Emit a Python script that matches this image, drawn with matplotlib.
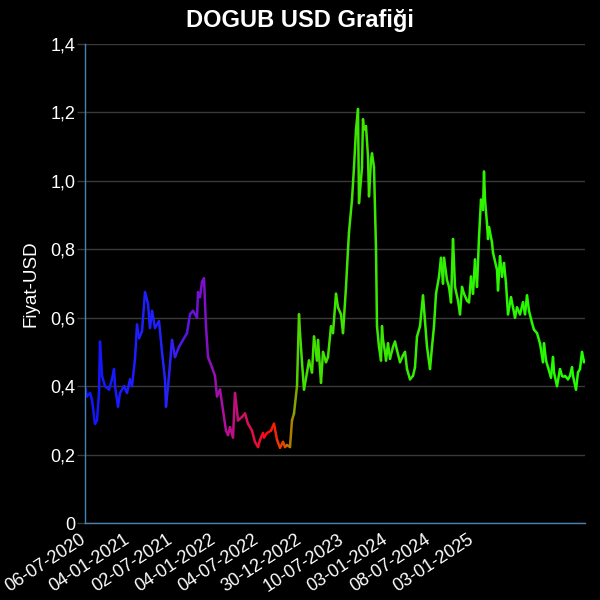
# DOGUB USD fiyat grafigi -- siyah zemin, zamana gore renk degistiren cizgi

import numpy as np
import matplotlib
matplotlib.use('Agg')
import matplotlib.pyplot as plt
import matplotlib.transforms as mtrans
from matplotlib.collections import LineCollection
from matplotlib.colors import LinearSegmentedColormap
from matplotlib.ticker import FuncFormatter, FixedLocator

# gun indeksi (0 = 06-07-2020) ve USD fiyat
gun = [0, 4, 10, 14, 20, 24, 28, 30, 34, 40, 48, 54, 58, 60, 66, 70, 78, 84, 90, 94,
       100, 104, 108, 114, 120, 126, 130, 134, 140, 148, 154, 160, 162, 168, 174, 180, 188,
       196, 204, 210, 216, 224, 226, 230, 234, 238, 242, 246, 254, 260, 264, 270, 276,
       282, 286, 290, 296, 300, 306, 314, 320, 326, 334, 340, 346, 350, 356, 358, 364,
       372, 378, 384, 390, 396, 400, 404, 410, 414, 418, 424, 428, 430, 434, 438, 444,
       448, 454, 458, 464, 466, 472, 476, 482, 486, 492, 496, 502, 506, 512, 516, 522,
       526, 528, 534, 538, 542, 546, 548, 554, 556, 558, 562, 566, 568, 572, 574, 578,
       582, 584, 588, 592, 594, 596, 600, 602, 606, 610, 616, 620, 624, 630, 636, 640,
       644, 650, 656, 660, 664, 670, 676, 680, 684, 690, 694, 698, 702, 708, 712, 716,
       718, 724, 728, 732, 736, 740, 746, 750, 754, 758, 764, 768, 772, 776, 780, 784,
       788, 792, 796, 798, 800, 804, 806, 808, 814, 816, 824, 826, 830, 834, 838, 842,
       846, 852, 856, 860, 864, 870, 876, 880, 884, 888, 894, 898, 904, 910, 916, 918,
       922, 926, 932, 936, 938, 944, 950, 954, 960, 966, 970, 974, 976, 982, 986, 990,
       994, 998, 1000]
fiyat = [0.40, 0.37, 0.38, 0.36, 0.29, 0.30, 0.38, 0.53, 0.43, 0.40, 0.39, 0.42, 0.45,
         0.40, 0.34, 0.38, 0.40, 0.38, 0.42, 0.40, 0.48, 0.58, 0.54, 0.56, 0.675, 0.64,
         0.57, 0.62, 0.57, 0.59, 0.50, 0.42, 0.34, 0.43, 0.535, 0.485, 0.515,
         0.535, 0.555, 0.61, 0.62, 0.60, 0.675, 0.66, 0.705, 0.715, 0.575, 0.485, 0.455,
         0.43, 0.37, 0.39, 0.33, 0.27, 0.257, 0.28, 0.25, 0.38, 0.30, 0.31, 0.32, 0.29,
         0.27, 0.237, 0.222, 0.243, 0.263, 0.25, 0.263, 0.27, 0.29, 0.243, 0.22, 0.237,
         0.222, 0.228, 0.222, 0.30, 0.32, 0.40, 0.61, 0.555, 0.47, 0.39, 0.44, 0.475,
         0.44, 0.545, 0.475, 0.535, 0.41, 0.50, 0.47, 0.485, 0.575, 0.555, 0.67, 0.63,
         0.61, 0.555, 0.69, 0.80, 0.85, 0.945, 1.04, 1.15, 1.21, 0.935, 1.04, 1.18, 1.15,
         1.16, 1.07, 0.955, 1.06, 1.08, 1.04, 0.80, 0.575, 0.515, 0.475, 0.575, 0.535,
         0.50, 0.475, 0.525, 0.48, 0.515, 0.53, 0.505, 0.47, 0.49, 0.50, 0.45, 0.42, 0.43,
         0.455, 0.545, 0.575, 0.665, 0.59, 0.515, 0.45, 0.515, 0.575, 0.67, 0.72, 0.775,
         0.70, 0.775, 0.71, 0.69, 0.645, 0.83, 0.69, 0.65, 0.61, 0.69, 0.67, 0.65, 0.645,
         0.72, 0.67, 0.77, 0.69, 0.835, 0.945, 0.915, 1.027, 0.945, 0.875, 0.83, 0.865,
         0.82, 0.79, 0.74, 0.68, 0.78, 0.72, 0.76, 0.70, 0.61, 0.66, 0.63, 0.60, 0.63,
         0.61, 0.645, 0.61, 0.665, 0.62, 0.585, 0.565, 0.555, 0.525, 0.47, 0.525, 0.475,
         0.455, 0.425, 0.485, 0.44, 0.40, 0.45, 0.43, 0.43, 0.42, 0.43, 0.455, 0.43, 0.39,
         0.44, 0.45, 0.50, 0.47, 0.475]

tarih_etiket = ['06-07-2020', '04-01-2021', '02-07-2021', '04-01-2022', '04-07-2022',
                '30-12-2022', '10-07-2023', '03-01-2024', '08-07-2024', '03-01-2025']

gun = np.array(gun, dtype=float)
fiyat = np.array(fiyat)

# renk gecisi: mavi -> mor -> kirmizi -> yesil
renk_gecis = [(0.0, '#1414ff'), (0.16, '#2222ff'), (0.20, '#5a14e6'), (0.24, '#8010c8'),
              (0.28, '#b0109a'), (0.33, '#dc1050'), (0.37, '#ff0a0a'), (0.40, '#e05000'),
              (0.415, '#a08a00'), (0.43, '#44e000'), (1.0, '#22ff00')]
cmap = LinearSegmentedColormap.from_list('dogub', renk_gecis)

plt.rcParams['font.family'] = ['Liberation Sans', 'DejaVu Sans']
fig = plt.figure(figsize=(6, 6), dpi=100, facecolor='black')
ax = fig.add_axes([85/600, 1-523/600, 500/600, 479/600])
ax.set_facecolor('black')

pts = np.column_stack([gun, fiyat]).reshape(-1, 1, 2)
segs = np.concatenate([pts[:-1], pts[1:]], axis=1)
orta = (gun[:-1] + gun[1:]) / 2 / 1000.0
lc = LineCollection(segs, colors=cmap(orta), linewidths=1.8, capstyle='round', joinstyle='round')
ax.add_collection(lc)

ax.set_xlim(0, 1000)
ax.set_ylim(0, 1.4)

# y ekseni
ax.yaxis.set_major_locator(FixedLocator(np.arange(0, 1.41, 0.2)))
ax.yaxis.set_major_formatter(FuncFormatter(lambda v, p: '0' if abs(v) < 1e-9 else f'{v:.1f}'.replace('.', ',')))
ax.grid(axis='y', color='#3a3a3a', linewidth=1)
ax.tick_params(axis='y', colors='#3a3a3a', labelcolor='white', labelsize=13, length=6, width=1, pad=1)

# x ekseni -- etiketler esit aralikli (yaklasik 6 ayda bir)
ax.set_xticks(np.arange(len(tarih_etiket)) * 86)
ax.set_xticklabels(tarih_etiket, rotation=33, ha='right', va='top', rotation_mode='anchor')
ax.tick_params(axis='x', colors='white', labelsize=13, length=0, pad=6)
kaydir = mtrans.ScaledTranslation(-5/100, 0, fig.dpi_scale_trans)
for lab in ax.get_xticklabels():
    lab.set_transform(lab.get_transform() + kaydir)

for s in ['top', 'right']:
    ax.spines[s].set_visible(False)
for s in ['left', 'bottom']:
    ax.spines[s].set_color('#4682b4')
    ax.spines[s].set_linewidth(1)

ax.set_ylabel('Fiyat-USD', color='white', fontsize=13.5, labelpad=8)
fig.text(0.5, 1-20/600, 'DOGUB USD Grafiği', color='white', fontsize=17, fontweight='bold',
         ha='center', va='center')

fig.savefig('out.png', dpi=100, facecolor='black')
